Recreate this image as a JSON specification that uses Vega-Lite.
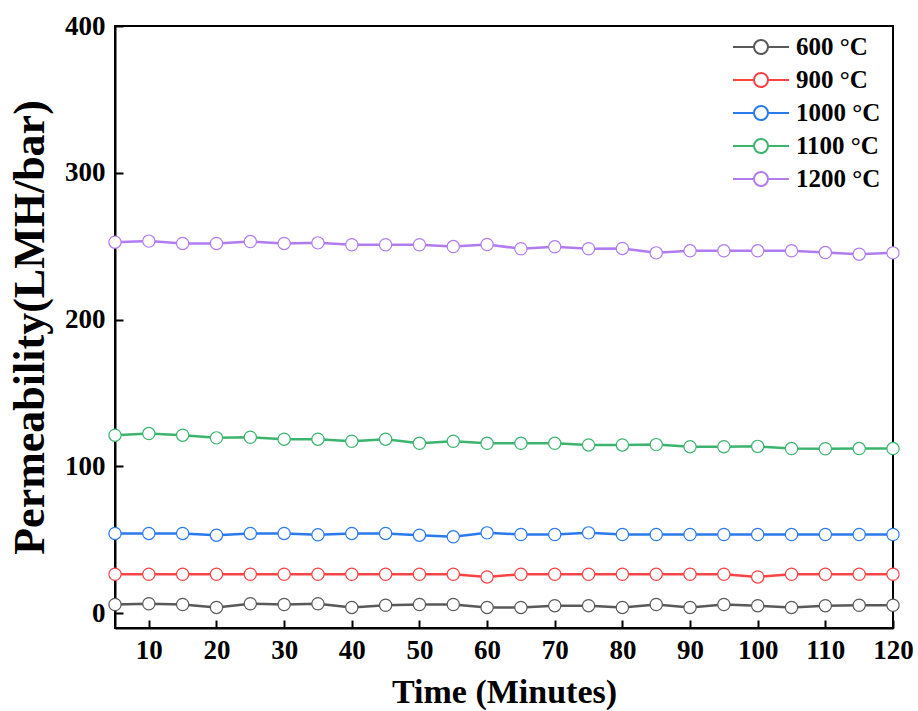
{
  "$schema": "https://vega.github.io/schema/vega-lite/v6.json",
  "autosize": {"type": "none"},
  "width": 778,
  "height": 602,
  "padding": {"left": 115, "top": 26, "right": 25, "bottom": 83},
  "background": "white",
  "datasets": {
    "flux": [
      {"t": 5, "T": "600 °C", "v": 6}, {"t": 10, "T": "600 °C", "v": 6.5}, {"t": 15, "T": "600 °C", "v": 6}, {"t": 20, "T": "600 °C", "v": 4},
      {"t": 25, "T": "600 °C", "v": 6.5}, {"t": 30, "T": "600 °C", "v": 6}, {"t": 35, "T": "600 °C", "v": 6.5}, {"t": 40, "T": "600 °C", "v": 4},
      {"t": 45, "T": "600 °C", "v": 5.5}, {"t": 50, "T": "600 °C", "v": 6}, {"t": 55, "T": "600 °C", "v": 6}, {"t": 60, "T": "600 °C", "v": 4},
      {"t": 65, "T": "600 °C", "v": 4}, {"t": 70, "T": "600 °C", "v": 5.2}, {"t": 75, "T": "600 °C", "v": 5.2}, {"t": 80, "T": "600 °C", "v": 4},
      {"t": 85, "T": "600 °C", "v": 6}, {"t": 90, "T": "600 °C", "v": 4}, {"t": 95, "T": "600 °C", "v": 6}, {"t": 100, "T": "600 °C", "v": 5.2},
      {"t": 105, "T": "600 °C", "v": 4}, {"t": 110, "T": "600 °C", "v": 5.2}, {"t": 115, "T": "600 °C", "v": 5.5}, {"t": 120, "T": "600 °C", "v": 5.5},

      {"t": 5, "T": "900 °C", "v": 26.6}, {"t": 10, "T": "900 °C", "v": 26.6}, {"t": 15, "T": "900 °C", "v": 26.6}, {"t": 20, "T": "900 °C", "v": 26.6},
      {"t": 25, "T": "900 °C", "v": 26.6}, {"t": 30, "T": "900 °C", "v": 26.6}, {"t": 35, "T": "900 °C", "v": 26.6}, {"t": 40, "T": "900 °C", "v": 26.6},
      {"t": 45, "T": "900 °C", "v": 26.6}, {"t": 50, "T": "900 °C", "v": 26.6}, {"t": 55, "T": "900 °C", "v": 26.6}, {"t": 60, "T": "900 °C", "v": 24.8},
      {"t": 65, "T": "900 °C", "v": 26.6}, {"t": 70, "T": "900 °C", "v": 26.6}, {"t": 75, "T": "900 °C", "v": 26.6}, {"t": 80, "T": "900 °C", "v": 26.6},
      {"t": 85, "T": "900 °C", "v": 26.6}, {"t": 90, "T": "900 °C", "v": 26.6}, {"t": 95, "T": "900 °C", "v": 26.6}, {"t": 100, "T": "900 °C", "v": 24.8},
      {"t": 105, "T": "900 °C", "v": 26.6}, {"t": 110, "T": "900 °C", "v": 26.6}, {"t": 115, "T": "900 °C", "v": 26.6}, {"t": 120, "T": "900 °C", "v": 26.6},

      {"t": 5, "T": "1000 °C", "v": 54.4}, {"t": 10, "T": "1000 °C", "v": 54.4}, {"t": 15, "T": "1000 °C", "v": 54.4}, {"t": 20, "T": "1000 °C", "v": 53.2},
      {"t": 25, "T": "1000 °C", "v": 54.4}, {"t": 30, "T": "1000 °C", "v": 54.4}, {"t": 35, "T": "1000 °C", "v": 53.5}, {"t": 40, "T": "1000 °C", "v": 54.4},
      {"t": 45, "T": "1000 °C", "v": 54.4}, {"t": 50, "T": "1000 °C", "v": 53.2}, {"t": 55, "T": "1000 °C", "v": 52.1}, {"t": 60, "T": "1000 °C", "v": 54.8},
      {"t": 65, "T": "1000 °C", "v": 53.7}, {"t": 70, "T": "1000 °C", "v": 53.7}, {"t": 75, "T": "1000 °C", "v": 54.8}, {"t": 80, "T": "1000 °C", "v": 53.7},
      {"t": 85, "T": "1000 °C", "v": 53.7}, {"t": 90, "T": "1000 °C", "v": 53.7}, {"t": 95, "T": "1000 °C", "v": 53.7}, {"t": 100, "T": "1000 °C", "v": 53.7},
      {"t": 105, "T": "1000 °C", "v": 53.7}, {"t": 110, "T": "1000 °C", "v": 53.7}, {"t": 115, "T": "1000 °C", "v": 53.7}, {"t": 120, "T": "1000 °C", "v": 53.7},

      {"t": 5, "T": "1100 °C", "v": 121.3}, {"t": 10, "T": "1100 °C", "v": 122.4}, {"t": 15, "T": "1100 °C", "v": 121.3}, {"t": 20, "T": "1100 °C", "v": 119.5},
      {"t": 25, "T": "1100 °C", "v": 119.9}, {"t": 30, "T": "1100 °C", "v": 118.6}, {"t": 35, "T": "1100 °C", "v": 118.6}, {"t": 40, "T": "1100 °C", "v": 117.2},
      {"t": 45, "T": "1100 °C", "v": 118.6}, {"t": 50, "T": "1100 °C", "v": 115.8}, {"t": 55, "T": "1100 °C", "v": 117.2}, {"t": 60, "T": "1100 °C", "v": 115.8},
      {"t": 65, "T": "1100 °C", "v": 115.8}, {"t": 70, "T": "1100 °C", "v": 115.8}, {"t": 75, "T": "1100 °C", "v": 114.7}, {"t": 80, "T": "1100 °C", "v": 114.7},
      {"t": 85, "T": "1100 °C", "v": 114.9}, {"t": 90, "T": "1100 °C", "v": 113.5}, {"t": 95, "T": "1100 °C", "v": 113.5}, {"t": 100, "T": "1100 °C", "v": 113.7},
      {"t": 105, "T": "1100 °C", "v": 112.2}, {"t": 110, "T": "1100 °C", "v": 112.1}, {"t": 115, "T": "1100 °C", "v": 112.2}, {"t": 120, "T": "1100 °C", "v": 112.2},

      {"t": 5, "T": "1200 °C", "v": 252.8}, {"t": 10, "T": "1200 °C", "v": 253.5}, {"t": 15, "T": "1200 °C", "v": 251.9}, {"t": 20, "T": "1200 °C", "v": 251.9},
      {"t": 25, "T": "1200 °C", "v": 253.2}, {"t": 30, "T": "1200 °C", "v": 251.9}, {"t": 35, "T": "1200 °C", "v": 252.3}, {"t": 40, "T": "1200 °C", "v": 251},
      {"t": 45, "T": "1200 °C", "v": 251}, {"t": 50, "T": "1200 °C", "v": 251}, {"t": 55, "T": "1200 °C", "v": 249.8}, {"t": 60, "T": "1200 °C", "v": 251.2},
      {"t": 65, "T": "1200 °C", "v": 248.3}, {"t": 70, "T": "1200 °C", "v": 249.6}, {"t": 75, "T": "1200 °C", "v": 248.3}, {"t": 80, "T": "1200 °C", "v": 248.5},
      {"t": 85, "T": "1200 °C", "v": 245.5}, {"t": 90, "T": "1200 °C", "v": 246.9}, {"t": 95, "T": "1200 °C", "v": 246.9}, {"t": 100, "T": "1200 °C", "v": 246.9},
      {"t": 105, "T": "1200 °C", "v": 246.9}, {"t": 110, "T": "1200 °C", "v": 245.7}, {"t": 115, "T": "1200 °C", "v": 244.6}, {"t": 120, "T": "1200 °C", "v": 245.5}
    ]
  },
  "data": {"name": "flux"},
  "config": {
    "view": {"stroke": "black", "strokeWidth": 2},
    "font": "Liberation Serif",
    "axis": {
      "domainColor": "black",
      "domainWidth": 2,
      "tickColor": "black",
      "tickWidth": 2,
      "tickSize": -8,
      "grid": false,
      "labelFont": "Liberation Serif",
      "labelFontWeight": "bold",
      "labelFontSize": 27,
      "labelColor": "black",
      "titleFont": "Liberation Serif",
      "titleFontWeight": "bold",
      "titleColor": "black"
    }
  },
  "encoding": {
    "x": {
      "field": "t",
      "type": "quantitative",
      "scale": {"domain": [5, 120], "nice": false, "zero": false},
      "axis": {
        "title": "Time (Minutes)",
        "titleFontSize": 34,
        "titlePadding": 12,
        "values": [10, 20, 30, 40, 50, 60, 70, 80, 90, 100, 110, 120],
        "labelPadding": 17,
        "labelFlush": false
      }
    },
    "y": {
      "field": "v",
      "type": "quantitative",
      "scale": {"domain": [-10, 400], "nice": false, "zero": false},
      "axis": {
        "title": "Permeability(LMH/bar)",
        "titleFontSize": 44,
        "titlePadding": 12,
        "values": [0, 100, 200, 300, 400],
        "labelPadding": 18,
        "labelFlush": false
      }
    },
    "color": {
      "field": "T",
      "type": "nominal",
      "sort": ["600 °C", "900 °C", "1000 °C", "1100 °C", "1200 °C"],
      "scale": {
        "domain": ["600 °C", "900 °C", "1000 °C", "1100 °C", "1200 °C"],
        "range": ["#595959", "#F84444", "#2A7AEE", "#3CB46E", "#B07CF0"]
      },
      "legend": {
        "title": null,
        "orient": "none",
        "legendX": 631,
        "legendY": 6,
        "symbolType": "M-2,0H-0.5M0.5,0H2M0.5,0A0.5,0.5,0,1,1,-0.5,0A0.5,0.5,0,1,1,0.5,0",
        "symbolSize": 784,
        "symbolStrokeWidth": 2,
        "symbolFillColor": "white",
        "labelFont": "Liberation Serif",
        "labelFontWeight": "bold",
        "labelFontSize": 25,
        "labelColor": "black",
        "labelLimit": 200,
        "rowPadding": 5,
        "labelOffset": 20,
        "encode": {"symbols": {"update": {"fill": {"value": "white"}, "opacity": {"value": 1}}}}
      }
    }
  },
  "layer": [
    {"mark": {"type": "line", "strokeWidth": 2.5}},
    {"mark": {"type": "point", "shape": "circle", "filled": false, "fill": "white", "opacity": 1, "size": 150, "strokeWidth": 1.2}}
  ]
}
